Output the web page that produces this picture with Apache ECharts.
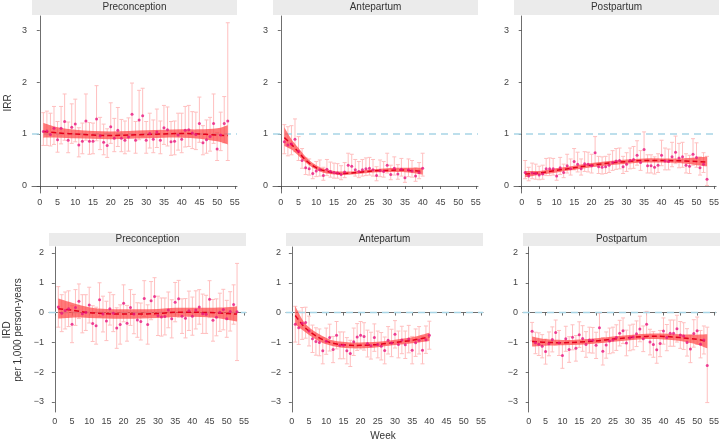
<!DOCTYPE html>
<html>
<head>
<meta charset="utf-8">
<script src="https://cdn.jsdelivr.net/npm/echarts@6/dist/echarts.min.js"></script>
<style>
  html, body { margin: 0; padding: 0; background: #fff; }
  #chart { width: 722px; height: 442px; }
</style>
</head>
<body>
<div id="chart"></div>
<script>
// ---- data (week index = position + 1) ----
const xTicks = [0, 5, 10, 15, 20, 25, 30, 35, 40, 45, 50, 55]
const irrTicks = [0, 1, 2, 3]
const irdTicks = [-3, -2, -1, 0, 1, 2]

// IRR, preconception
const preIrrPt = [1.05,1.06,0.99,1.11,0.89,1.11,1.24,0.88,1.13,1.19,0.79,0.86,1.25,0.86,0.86,1.29,0.96,0.84,0.78,1.14,0.92,1.07,0.92,0.88,0.94,1.38,0.88,1.27,1.35,0.88,1.01,0.90,1.04,0.88,1.12,1.08,0.85,0.86,0.98,0.90,1.07,1.08,1.02,0.99,1.20,0.83,0.89,0.95,1.20,0.71,0.98,1.20,1.25]
const preIrrLo = [0.78,0.78,0.77,0.80,0.65,0.81,0.88,0.64,0.82,0.85,0.56,0.62,0.88,0.61,0.62,0.87,0.70,0.60,0.55,0.82,0.66,0.76,0.66,0.62,0.67,0.96,0.63,0.89,0.95,0.63,0.73,0.64,0.74,0.62,0.80,0.77,0.59,0.60,0.69,0.64,0.75,0.76,0.72,0.70,0.84,0.60,0.63,0.67,0.82,0.49,0.68,0.83,0.49]
const preIrrHi = [1.41,1.44,1.40,1.53,1.24,1.53,1.77,1.23,1.58,1.67,1.12,1.21,1.77,1.22,1.21,1.93,1.32,1.19,1.10,1.60,1.30,1.51,1.28,1.25,1.31,1.98,1.24,1.84,1.88,1.24,1.40,1.27,1.48,1.25,1.55,1.52,1.24,1.25,1.40,1.40,1.53,1.55,1.43,1.42,1.71,1.16,1.27,1.32,1.77,1.03,1.42,1.72,3.14]
const preIrrFitWk = [1,5,10,15,20,25,30,35,40,45,50,53]
const preIrrFit   = [1.05,1.02,1.00,0.98,0.97,0.98,0.99,1.00,1.01,1.00,0.98,0.97]
const preIrrFitLo = [0.93,0.93,0.92,0.91,0.90,0.91,0.92,0.93,0.93,0.91,0.86,0.80]
const preIrrFitHi = [1.21,1.13,1.08,1.06,1.05,1.06,1.07,1.08,1.09,1.09,1.11,1.17]

// IRR, antepartum
const antIrrPt = [0.85,0.79,0.81,0.90,0.67,0.49,0.35,0.33,0.24,0.29,0.31,0.20,0.32,0.28,0.26,0.25,0.22,0.27,0.40,0.38,0.31,0.28,0.31,0.33,0.34,0.31,0.20,0.30,0.28,0.40,0.22,0.34,0.23,0.32,0.16,0.31,0.29,0.19,0.26,0.34]
const antIrrLo = [0.62,0.58,0.60,0.66,0.49,0.34,0.22,0.21,0.14,0.18,0.19,0.11,0.20,0.17,0.15,0.15,0.12,0.16,0.26,0.24,0.19,0.16,0.19,0.20,0.21,0.19,0.10,0.18,0.17,0.25,0.12,0.21,0.13,0.19,0.07,0.18,0.17,0.09,0.14,0.19]
const antIrrHi = [1.18,1.14,1.16,1.29,0.95,0.72,0.54,0.52,0.41,0.47,0.50,0.36,0.51,0.46,0.44,0.43,0.39,0.45,0.63,0.61,0.51,0.47,0.51,0.54,0.55,0.51,0.37,0.50,0.47,0.63,0.40,0.56,0.41,0.53,0.33,0.52,0.49,0.35,0.45,0.63]
const antIrrFitWk = [1,3,5,7,9,11,13,15,17,20,23,26,30,33,36,40]
const antIrrFit   = [0.93,0.80,0.65,0.50,0.39,0.32,0.28,0.25,0.24,0.25,0.27,0.29,0.30,0.31,0.30,0.28]
const antIrrFitLo = [0.77,0.70,0.58,0.45,0.35,0.28,0.24,0.22,0.21,0.22,0.24,0.26,0.27,0.27,0.26,0.22]
const antIrrFitHi = [1.13,0.90,0.73,0.56,0.44,0.36,0.32,0.29,0.28,0.28,0.30,0.32,0.34,0.35,0.35,0.35]

// IRR, postpartum
const postIrrPt = [0.26,0.19,0.25,0.24,0.21,0.23,0.33,0.33,0.33,0.19,0.35,0.26,0.39,0.33,0.47,0.42,0.33,0.43,0.42,0.39,0.64,0.37,0.36,0.37,0.40,0.45,0.48,0.49,0.37,0.42,0.49,0.51,0.59,0.45,0.70,0.39,0.39,0.36,0.40,0.59,0.48,0.47,0.56,0.65,0.54,0.56,0.40,0.38,0.61,0.55,0.35,0.42,0.13]
const postIrrLo = [0.14,0.10,0.14,0.13,0.12,0.13,0.20,0.20,0.21,0.11,0.22,0.16,0.25,0.21,0.31,0.27,0.21,0.28,0.27,0.25,0.43,0.24,0.23,0.24,0.26,0.30,0.32,0.33,0.24,0.28,0.33,0.34,0.40,0.30,0.47,0.25,0.25,0.23,0.26,0.39,0.31,0.31,0.37,0.43,0.35,0.36,0.25,0.24,0.40,0.36,0.21,0.26,0.01]
const postIrrHi = [0.49,0.36,0.44,0.42,0.38,0.40,0.53,0.54,0.53,0.33,0.55,0.42,0.61,0.52,0.72,0.65,0.52,0.66,0.65,0.61,0.95,0.57,0.56,0.57,0.61,0.68,0.72,0.73,0.57,0.64,0.73,0.76,0.87,0.68,1.04,0.60,0.60,0.56,0.62,0.88,0.73,0.71,0.84,0.96,0.82,0.84,0.62,0.59,0.91,0.83,0.56,0.64,0.57]
const postIrrFitWk = [1,5,10,15,20,25,30,35,40,45,50,53]
const postIrrFit   = [0.23,0.25,0.30,0.35,0.40,0.44,0.47,0.49,0.49,0.485,0.47,0.46]
const postIrrFitLo = [0.17,0.21,0.26,0.31,0.36,0.40,0.43,0.45,0.45,0.44,0.40,0.38]
const postIrrFitHi = [0.29,0.29,0.34,0.39,0.44,0.48,0.51,0.53,0.53,0.53,0.55,0.56]

// IRD per 1,000 person-years, preconception
const preIrdPt = [0.19,-0.02,0.07,0.13,-0.39,0.17,0.38,-0.04,0.00,0.25,-0.37,-0.44,0.43,-0.05,-0.28,0.13,-0.02,-0.52,-0.40,0.31,-0.36,0.17,-0.05,-0.25,-0.30,0.47,-0.40,0.40,0.54,-0.11,-0.15,-0.13,0.09,-0.21,0.35,0.46,-0.12,-0.19,0.06,-0.12,0.09,0.19,-0.04,-0.06,0.45,-0.26,-0.16,0.01,0.10,-0.21,0.04,0.27,0.03]
const preIrdLo = [-0.49,-0.64,-0.55,-0.47,-1.01,-0.43,-0.20,-0.68,-0.60,-0.35,-0.97,-1.06,-0.14,-0.65,-0.94,-0.42,-0.64,-1.20,-1.06,-0.31,-0.96,-0.43,-0.71,-0.83,-0.92,-0.13,-1.06,-0.24,-0.09,-0.77,-0.79,-0.75,-0.51,-0.85,-0.31,-0.16,-0.70,-0.85,-0.60,-0.76,-0.55,-0.39,-0.70,-0.70,-0.17,-0.96,-0.78,-0.63,-0.58,-0.83,-0.62,-0.39,-1.61]
const preIrdHi = [0.87,0.60,0.69,0.73,0.23,0.77,0.96,0.60,0.60,0.85,0.23,0.18,1.00,0.55,0.38,0.68,0.60,0.16,0.26,0.93,0.24,0.77,0.61,0.33,0.32,1.07,0.26,1.04,1.17,0.55,0.49,0.49,0.69,0.43,1.01,1.08,0.46,0.47,0.72,0.52,0.73,0.77,0.62,0.58,1.07,0.44,0.46,0.65,0.78,0.41,0.70,0.93,1.65]
const preIrdFitWk = [1,5,10,15,20,25,30,35,40,45,50,53]
const preIrdFit   = [0.13,0.08,0.00,-0.04,-0.05,-0.05,-0.03,0.01,0.01,0.00,-0.03,-0.05]
const preIrdFitLo = [-0.20,-0.17,-0.18,-0.20,-0.21,-0.20,-0.18,-0.15,-0.14,-0.16,-0.24,-0.30]
const preIrdFitHi = [0.47,0.33,0.18,0.12,0.11,0.11,0.12,0.16,0.16,0.16,0.18,0.21]

// IRD, antepartum
const antIrdPt = [-0.39,-0.51,-0.36,-0.33,-0.62,-0.88,-0.97,-1.00,-1.28,-0.96,-0.84,-1.24,-0.76,-1.10,-1.10,-1.28,-1.37,-0.98,-0.82,-0.76,-0.80,-1.04,-1.11,-0.84,-1.07,-1.13,-1.27,-0.93,-1.02,-0.73,-1.07,-0.92,-1.08,-0.89,-1.26,-1.01,-0.93,-1.26,-0.91,-0.76]
const antIrdLo = [-0.99,-1.07,-0.90,-0.86,-1.12,-1.34,-1.43,-1.45,-1.72,-1.40,-1.29,-1.68,-1.22,-1.55,-1.55,-1.72,-1.81,-1.44,-1.27,-1.22,-1.26,-1.49,-1.56,-1.30,-1.52,-1.59,-1.72,-1.39,-1.48,-1.19,-1.52,-1.38,-1.54,-1.35,-1.72,-1.47,-1.39,-1.72,-1.37,-1.23]
const antIrdHi = [0.21,0.05,0.17,0.18,-0.12,-0.42,-0.51,-0.55,-0.84,-0.52,-0.39,-0.80,-0.30,-0.65,-0.65,-0.84,-0.93,-0.52,-0.37,-0.30,-0.34,-0.59,-0.66,-0.38,-0.62,-0.67,-0.82,-0.47,-0.56,-0.27,-0.62,-0.46,-0.62,-0.43,-0.80,-0.55,-0.47,-0.80,-0.45,-0.29]
const antIrdFitWk = [1,3,5,8,11,14,17,20,25,30,35,40]
const antIrdFit   = [-0.10,-0.40,-0.62,-0.85,-1.00,-1.07,-1.10,-1.10,-1.07,-1.00,-0.93,-0.82]
const antIrdFitLo = [-0.40,-0.58,-0.75,-0.97,-1.10,-1.17,-1.20,-1.20,-1.16,-1.09,-1.03,-0.95]
const antIrdFitHi = [0.22,-0.22,-0.49,-0.73,-0.90,-0.97,-1.00,-1.00,-0.98,-0.91,-0.83,-0.68]

// IRD, postpartum
const postIrdPt = [-0.63,-1.01,-1.06,-1.13,-1.31,-1.05,-0.90,-0.67,-1.02,-1.44,-0.88,-1.24,-0.83,-1.20,-0.74,-0.87,-1.07,-0.92,-0.93,-1.10,-0.51,-1.30,-1.09,-0.95,-0.92,-0.84,-0.69,-0.61,-1.02,-0.85,-0.82,-0.71,-0.55,-0.88,-0.39,-0.99,-1.07,-1.25,-1.04,-0.62,-0.84,-0.69,-0.69,-0.54,-0.75,-0.79,-1.00,-1.22,-0.70,-0.61,-1.06,-0.92,-1.78]
const postIrdLo = [-0.95,-1.38,-1.44,-1.52,-1.73,-1.45,-1.32,-1.09,-1.44,-1.87,-1.30,-1.67,-1.25,-1.63,-1.17,-1.30,-1.50,-1.35,-1.36,-1.54,-1.00,-1.76,-1.53,-1.38,-1.35,-1.27,-1.12,-1.04,-1.45,-1.28,-1.25,-1.14,-0.98,-1.31,-0.82,-1.42,-1.50,-1.70,-1.48,-1.06,-1.28,-1.13,-1.13,-0.99,-1.20,-1.24,-1.46,-1.68,-1.16,-1.07,-1.52,-1.39,-3.02]
const postIrdHi = [-0.33,-0.66,-0.68,-0.74,-0.89,-0.65,-0.48,-0.25,-0.60,-1.01,-0.46,-0.81,-0.41,-0.77,-0.31,-0.44,-0.64,-0.49,-0.50,-0.66,-0.02,-0.84,-0.65,-0.52,-0.49,-0.41,-0.26,-0.18,-0.59,-0.42,-0.39,-0.28,-0.12,-0.45,0.04,-0.56,-0.64,-0.80,-0.60,-0.18,-0.40,-0.25,-0.25,-0.09,-0.30,-0.34,-0.54,-0.76,-0.24,-0.15,-0.60,-0.45,-0.49]
const postIrdFitWk = [1,5,10,15,20,25,30,35,40,45,50,53]
const postIrdFit   = [-0.97,-1.00,-1.01,-0.99,-0.95,-0.89,-0.84,-0.80,-0.80,-0.84,-0.90,-0.97]
const postIrdFitLo = [-1.14,-1.11,-1.10,-1.08,-1.04,-0.98,-0.93,-0.89,-0.90,-0.95,-1.07,-1.20]
const postIrdFitHi = [-0.80,-0.89,-0.92,-0.90,-0.86,-0.80,-0.75,-0.71,-0.70,-0.73,-0.74,-0.73]

// ---- layout ----
const rows = [
  { top: 16, height: 177, stripTop: 0, lefts: [32, 273, 514], width: 205,
    xMin: -2.2, xMax: 55.6, yMin: -0.135, yMax: 3.27, yTicks: irrTicks, ref: 1 },
  { top: 247, height: 165, stripTop: 233, lefts: [49, 286, 523], width: 197,
    xMin: -1.7, xMax: 55.6, yMin: -3.336, yMax: 2.2, yTicks: irdTicks, ref: 0 },
]

const panels = [
  { row: 0, col: 0, title: 'Preconception', pt: preIrrPt, lo: preIrrLo, hi: preIrrHi, fw: preIrrFitWk, fit: preIrrFit, flo: preIrrFitLo, fhi: preIrrFitHi },
  { row: 0, col: 1, title: 'Antepartum', pt: antIrrPt, lo: antIrrLo, hi: antIrrHi, fw: antIrrFitWk, fit: antIrrFit, flo: antIrrFitLo, fhi: antIrrFitHi },
  { row: 0, col: 2, title: 'Postpartum', pt: postIrrPt, lo: postIrrLo, hi: postIrrHi, fw: postIrrFitWk, fit: postIrrFit, flo: postIrrFitLo, fhi: postIrrFitHi },
  { row: 1, col: 0, title: 'Preconception', pt: preIrdPt, lo: preIrdLo, hi: preIrdHi, fw: preIrdFitWk, fit: preIrdFit, flo: preIrdFitLo, fhi: preIrdFitHi },
  { row: 1, col: 1, title: 'Antepartum', pt: antIrdPt, lo: antIrdLo, hi: antIrdHi, fw: antIrdFitWk, fit: antIrdFit, flo: antIrdFitLo, fhi: antIrdFitHi },
  { row: 1, col: 2, title: 'Postpartum', pt: postIrdPt, lo: postIrdLo, hi: postIrdHi, fw: postIrdFitWk, fit: postIrdFit, flo: postIrdFitLo, fhi: postIrdFitHi },
]

const FONT = 'Liberation Sans, Arial, sans-serif'
const AXIS = '#4a4a4a'
const BAR = '#ffbfbf'
const BAND = 'rgba(255, 70, 70, 0.72)'
const FIT = '#e3001b'
const POINT = '#e8157f'
const REF = '#a8d5e6'

function renderErrorBar(params, api) {
  const x = api.value(0)
  const lo = api.coord([x, api.value(1)])
  const hi = api.coord([x, api.value(2)])
  const w = 2
  const style = { stroke: BAR, lineWidth: 1 }
  return {
    type: 'group',
    children: [
      { type: 'line', shape: { x1: lo[0], y1: lo[1], x2: hi[0], y2: hi[1] }, style },
      { type: 'line', shape: { x1: hi[0] - w, y1: hi[1], x2: hi[0] + w, y2: hi[1] }, style },
      { type: 'line', shape: { x1: lo[0] - w, y1: lo[1], x2: lo[0] + w, y2: lo[1] }, style },
    ],
  }
}

// smooth open curve (Catmull-Rom as cubic Bezier) through pixel points
function curvePath(pts, moveFirst) {
  let d = (moveFirst ? 'M' : 'L') + pts[0][0].toFixed(2) + ',' + pts[0][1].toFixed(2)
  for (let i = 0; i < pts.length - 1; i++) {
    const p0 = pts[Math.max(i - 1, 0)], p1 = pts[i], p2 = pts[i + 1], p3 = pts[Math.min(i + 2, pts.length - 1)]
    const c1 = [p1[0] + (p2[0] - p0[0]) / 6, p1[1] + (p2[1] - p0[1]) / 6]
    const c2 = [p2[0] - (p3[0] - p1[0]) / 6, p2[1] - (p3[1] - p1[1]) / 6]
    d += 'C' + c1.join(',') + ' ' + c2.join(',') + ' ' + p2.join(',')
  }
  return d
}

function makeFitRenderer(p, r) {
  return function (params, api) {
    if (params.dataIndex !== 0) return null
    const up = p.fw.map((w, k) => api.coord([w, p.fhi[k]]))
    const dn = p.fw.map((w, k) => api.coord([w, p.flo[k]])).reverse()
    const mid = p.fw.map((w, k) => api.coord([w, p.fit[k]]))
    const r0 = api.coord([r.xMin, r.ref])
    const r1 = api.coord([r.xMax, r.ref])
    return {
      type: 'group',
      children: [
        { type: 'line', shape: { x1: r0[0], y1: r0[1], x2: r1[0], y2: r1[1] },
          style: { stroke: REF, lineWidth: 1.6, lineDash: [7, 5] }, z2: 0 },
        { type: 'path', shape: { pathData: curvePath(up, true) + curvePath(dn, false) + 'Z' },
          style: { fill: BAND, stroke: null }, z2: 1 },
        { type: 'path', shape: { pathData: curvePath(mid, true) },
          style: { fill: null, stroke: FIT, lineWidth: 1.5, lineDash: [5, 3] }, z2: 2 },
      ],
    }
  }
}

const grid = [], xAxis = [], yAxis = [], series = [], graphic = []

panels.forEach((p, i) => {
  const r = rows[p.row]
  const left = r.lefts[p.col]
  grid.push({ left, top: r.top, width: r.width, height: r.height, containLabel: false })

  xAxis.push({
    gridIndex: i, type: 'value', min: r.xMin, max: r.xMax,
    splitLine: { show: false },
    axisLine: { show: true, lineStyle: { color: AXIS, width: 0.8 } },
    axisTick: { show: true, length: 3, customValues: xTicks, lineStyle: { color: AXIS, width: 0.8 } },
    axisLabel: { customValues: xTicks, fontSize: 9, color: '#444', margin: 5, fontFamily: FONT },
  })
  yAxis.push({
    gridIndex: i, type: 'value', min: r.yMin, max: r.yMax,
    splitLine: { show: false },
    axisLine: { show: true, lineStyle: { color: AXIS, width: 0.8 } },
    axisTick: { show: true, length: 3, customValues: r.yTicks, lineStyle: { color: AXIS, width: 0.8 } },
    axisLabel: {
      customValues: r.yTicks, fontSize: 9, color: '#444', margin: 5, fontFamily: FONT,
      formatter: v => (v < 0 ? '\u2212' + Math.abs(v) : String(v)),
    },
  })

  // error bars
  series.push({
    type: 'custom', xAxisIndex: i, yAxisIndex: i, z: 2, silent: true,
    renderItem: renderErrorBar,
    encode: { x: 0, y: [1, 2] },
    data: p.pt.map((v, k) => [k + 1, p.lo[k], p.hi[k]]),
  })

  // reference line, confidence band and fitted curve
  series.push({
    type: 'custom', xAxisIndex: i, yAxisIndex: i, z: 3, silent: true,
    renderItem: makeFitRenderer(p, r),
    encode: { x: 0, y: [1, 2, 3] },
    data: p.fw.map((w, k) => [w, p.fit[k], p.flo[k], p.fhi[k]]),
  })

  // weekly estimates
  series.push({
    type: 'scatter', xAxisIndex: i, yAxisIndex: i, z: 5, silent: true,
    symbol: 'circle', symbolSize: 3,
    itemStyle: { color: POINT },
    data: p.pt.map((v, k) => [k + 1, v]),
  })

  // facet strip
  graphic.push({
    type: 'rect', left, top: r.stripTop, silent: true,
    shape: { width: r.width, height: r.top - r.stripTop - 1 },
    style: { fill: '#ebebeb' },
  })
  graphic.push({
    type: 'text', silent: true,
    x: left + r.width / 2, y: r.stripTop + (r.top - r.stripTop - 1) / 2,
    style: { text: p.title, fill: '#333', font: '10px ' + FONT, align: 'center', verticalAlign: 'middle' },
  })
})

// axis titles
graphic.push({
  type: 'text', silent: true, x: 8, y: 103, rotation: Math.PI / 2,
  style: { text: 'IRR', fill: '#333', font: '10px ' + FONT, align: 'center', verticalAlign: 'middle' },
})
graphic.push({
  type: 'text', silent: true, x: 7, y: 330, rotation: Math.PI / 2,
  style: { text: 'IRD', fill: '#333', font: '10px ' + FONT, align: 'center', verticalAlign: 'middle' },
})
graphic.push({
  type: 'text', silent: true, x: 18, y: 330, rotation: Math.PI / 2,
  style: { text: 'per 1,000 person-years', fill: '#333', font: '10px ' + FONT, align: 'center', verticalAlign: 'middle' },
})
graphic.push({
  type: 'text', silent: true, x: 383, y: 436,
  style: { text: 'Week', fill: '#333', font: '10px ' + FONT, align: 'center', verticalAlign: 'middle' },
})

const chart = echarts.init(document.getElementById('chart'), null, { renderer: 'canvas' })
chart.setOption({
  animation: false,
  backgroundColor: '#fff',
  grid, xAxis, yAxis, series, graphic,
})
</script>
</body>
</html>
